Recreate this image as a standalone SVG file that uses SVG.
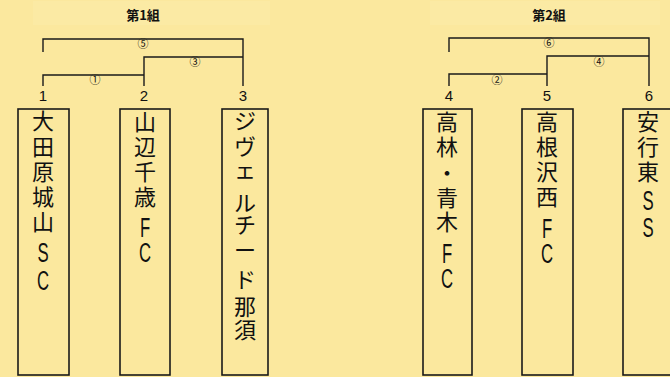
<svg xmlns="http://www.w3.org/2000/svg" width="670" height="377" viewBox="0 0 670 377">
<style>
.bg{fill:#fbe89e}
.fade{fill:#fdefb4;opacity:0.3}
.box{fill:none;stroke:#1a1a1a;stroke-width:1.6}
.ln{fill:none;stroke:#1a1a1a;stroke-width:1.4}
.t{font-family:"Noto Sans CJK JP","Noto Sans",sans-serif;fill:#111;text-anchor:middle}
.nm{font-size:22px}
.lt{font-family:"Liberation Sans",sans-serif;font-size:27px;fill:#111;text-anchor:middle}
.num{font-family:"Liberation Sans",sans-serif;font-size:15px;fill:#111;text-anchor:middle}
.ttl{font-size:13px;font-weight:bold}
.cn{font-family:"Noto Sans CJK JP","DejaVu Sans",sans-serif;font-size:11px;fill:#111;text-anchor:middle}
</style>
<rect class="bg" x="0" y="0" width="670" height="377"/>
<rect class="fade" x="33" y="1" width="237" height="24"/>
<rect class="fade" x="430" y="1" width="230" height="24"/>
<g id="titles">
<text class="t ttl" x="143" y="20">第1組</text>
<text class="t ttl" x="549" y="20">第2組</text>
</g>
<g id="connectors">
<path class="ln" d="M43,52 V39 H243 V86"/>
<path class="ln" d="M144,86 V57 H243"/>
<path class="ln" d="M43,86 V75 H144"/>
<path class="ln" d="M449,52 V38 H649 V86"/>
<path class="ln" d="M547,86 V56 H649"/>
<path class="ln" d="M449,86 V74 H547"/>
<text class="cn" x="143" y="48">⑤</text>
<text class="cn" x="195" y="66">③</text>
<text class="cn" x="95" y="84">①</text>
<text class="cn" x="549" y="47">⑥</text>
<text class="cn" x="599" y="66">④</text>
<text class="cn" x="497" y="84">②</text>
</g>
<g id="team1">
<text class="num" x="43" y="101">1</text>
<rect class="box" x="18" y="109" width="51" height="266"/>
<text class="t nm" x="43 43 43 43 43" y="129 155 180 205 230">大田原城山</text>
<text class="lt" transform="translate(43,0) scale(0.62,1)" x="0 0" y="262 290">SC</text>
</g>
<g id="team2">
<text class="num" x="144" y="101">2</text>
<rect class="box" x="120" y="109" width="50" height="266"/>
<text class="t nm" x="145 145 145 145" y="130 155 180 205">山辺千歳</text>
<text class="lt" transform="translate(145,0) scale(0.62,1)" x="0 0" y="237 262">FC</text>
</g>
<g id="team3">
<text class="num" x="243" y="101">3</text>
<rect class="box" x="222" y="109" width="46" height="266"/>
<text class="t nm" x="245 245 245 245 245 245 245 245 245" y="129 155 178 211 233 258 288 315 338">ジヴェルチード那須</text>
</g>
<g id="team4">
<text class="num" x="449" y="101">4</text>
<rect class="box" x="423" y="109" width="49" height="266"/>
<text class="t nm" x="447 447 447 447 447" y="130 155 181 206 230">高林・青木</text>
<text class="lt" transform="translate(447,0) scale(0.62,1)" x="0 0" y="263 288">FC</text>
</g>
<g id="team5">
<text class="num" x="547" y="101">5</text>
<rect class="box" x="522" y="109" width="51" height="266"/>
<text class="t nm" x="547 547 547 547" y="130 155 180 205">高根沢西</text>
<text class="lt" transform="translate(547,0) scale(0.62,1)" x="0 0" y="238 263">FC</text>
</g>
<g id="team6">
<text class="num" x="649" y="101">6</text>
<rect class="box" x="623" y="109" width="60" height="266"/>
<text class="t nm" x="648 648 648" y="130 155 180">安行東</text>
<text class="lt" transform="translate(648,0) scale(0.62,1)" x="0 0" y="210 237">SS</text>
</g>
</svg>
